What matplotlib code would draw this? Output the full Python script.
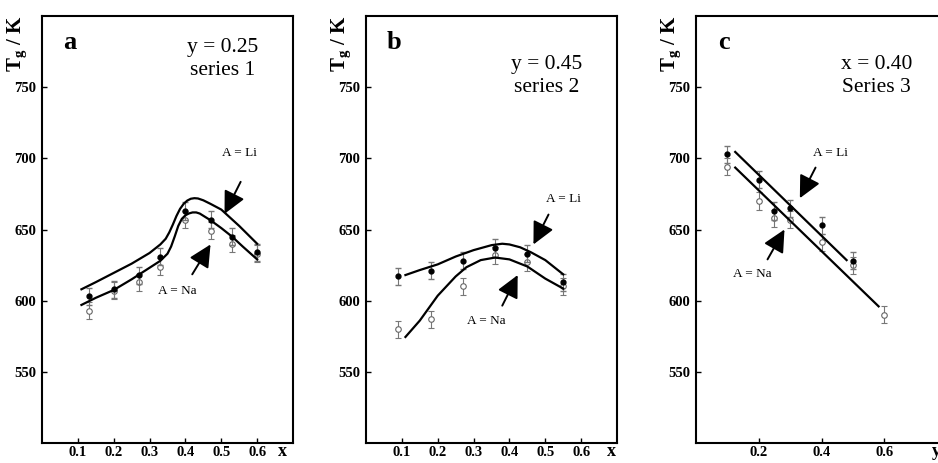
import matplotlib
matplotlib.use("Agg")
import matplotlib.pyplot as plt

plt.rcParams["font.family"] = "Liberation Serif"
plt.rcParams["mathtext.fontset"] = "custom"
plt.rcParams["mathtext.rm"] = "Liberation Serif"
plt.rcParams["mathtext.bf"] = "Liberation Serif:bold"

# ---- panel a: y = 0.25, series 1 ----
A_X = [0.13, 0.20, 0.27, 0.33, 0.40, 0.47, 0.53, 0.60]
A_LI = [603, 608, 618, 631, 663, 657, 645, 634]
A_NA = [593, 607, 613, 624, 657, 649, 640, 633]
A_LI_FIT_X = [0.11, 0.15, 0.20, 0.25, 0.30, 0.33, 0.345, 0.355, 0.365, 0.375,
              0.385, 0.395, 0.405, 0.415, 0.425, 0.435, 0.45, 0.47, 0.50, 0.55, 0.60]
A_LI_FIT_Y = [608, 613, 619.5, 626, 633.5, 639.5, 643.5, 648, 653.5, 659.5,
              664.5, 668, 670.3, 671.6, 672, 671.8, 670.5, 668, 664, 652.5, 640]
A_NA_FIT_X = [0.11, 0.15, 0.20, 0.25, 0.29, 0.33, 0.35, 0.36, 0.37, 0.38, 0.39,
              0.40, 0.41, 0.42, 0.43, 0.44, 0.47, 0.50, 0.53, 0.56, 0.60]
A_NA_FIT_Y = [597, 602, 607.5, 615, 621.5, 628, 633, 638, 645, 652.5, 657.5,
              660, 661.3, 662, 662, 661.2, 656.5, 651, 645, 638, 629]

# ---- panel b: y = 0.45, series 2 ----
B_X = [0.09, 0.18, 0.27, 0.36, 0.45, 0.55]
B_LI = [617, 621, 628, 637, 633, 613]
B_NA = [580, 587, 610, 632, 627, 610]
B_LI_FIT_X = [0.11, 0.15, 0.20, 0.25, 0.30, 0.35, 0.38, 0.40, 0.43, 0.46, 0.50, 0.55]
B_LI_FIT_Y = [618, 621.5, 625.5, 631, 635.5, 639, 640, 639.5, 637.5, 634, 628.5, 618.5]
B_NA_FIT_X = [0.11, 0.15, 0.20, 0.25, 0.28, 0.32, 0.36, 0.40, 0.45, 0.50, 0.55]
B_NA_FIT_Y = [574.5, 586, 603.5, 617, 623.5, 628.5, 630.3, 629, 624, 615.5, 608.5]

# ---- panel c: x = 0.40, series 3 ----
C_LI_X = [0.10, 0.20, 0.25, 0.30, 0.40, 0.50]
C_LI = [703, 685, 663, 665, 653, 628]
C_NA_X = [0.10, 0.20, 0.25, 0.30, 0.40, 0.50, 0.60]
C_NA = [694, 670, 658, 657, 641, 625, 590]
C_LI_FIT_X = [0.125, 0.48]
C_LI_FIT_Y = [704.5, 628.5]
C_NA_FIT_X = [0.125, 0.582]
C_NA_FIT_Y = [693.5, 596]

ERR = 6

W, H = 938, 463
fig = plt.figure(figsize=(W / 100, H / 100), dpi=100)

panels = [
    dict(left=42, letter="a", info="y = 0.25\nseries 1", info_y=0.899, xmax=0.7,
         xticks=[0.1, 0.2, 0.3, 0.4, 0.5, 0.6], xlab="x", xlab_x=0.67,
         li=(A_X, A_LI), na=(A_X, A_NA),
         li_fit=(A_LI_FIT_X, A_LI_FIT_Y), na_fit=(A_NA_FIT_X, A_NA_FIT_Y),
         li_note=((0.55, 704), (0.554, 683.5), (0.509, 661)),
         na_note=((0.377, 607), (0.419, 618.5), (0.47, 639.5))),
    dict(left=366, letter="b", info="y = 0.45\nseries 2", info_y=0.86, xmax=0.7,
         xticks=[0.1, 0.2, 0.3, 0.4, 0.5, 0.6], xlab="x", xlab_x=0.685,
         li=(B_X, B_LI), na=(B_X, B_NA),
         li_fit=(B_LI_FIT_X, B_LI_FIT_Y), na_fit=(B_NA_FIT_X, B_NA_FIT_Y),
         li_note=((0.551, 671.5), (0.509, 660.5), (0.467, 639.5)),
         na_note=((0.336, 586), (0.38, 596.5), (0.423, 618))),
    dict(left=696, letter="c", info="x = 0.40\nSeries 3", info_y=0.86, xmax=0.8,
         xticks=[0.2, 0.4, 0.6], xlab="y", xlab_x=0.765,
         li=(C_LI_X, C_LI), na=(C_NA_X, C_NA),
         li_fit=(C_LI_FIT_X, C_LI_FIT_Y), na_fit=(C_NA_FIT_X, C_NA_FIT_Y),
         li_note=((0.429, 704), (0.381, 693.5), (0.331, 672)),
         na_note=((0.18, 619), (0.228, 629), (0.282, 650))),
]

for p in panels:
    ax = fig.add_axes([p["left"] / W, (H - 443) / H, 251 / W, 427 / H])
    ax.set_xlim(0, p["xmax"])
    ax.set_ylim(500, 800)
    ax.set_xticks(p["xticks"])
    ax.set_xticklabels([f"{t:.1f}" for t in p["xticks"]])
    ax.set_yticks([550, 600, 650, 700, 750])
    ax.tick_params(direction="in", length=3.5, width=1, labelsize=10.5)
    ax.tick_params(axis="x", pad=2.5)
    ax.tick_params(axis="y", pad=4)
    for lab in ax.get_xticklabels() + ax.get_yticklabels():
        lab.set_fontweight("bold")
    for s in ax.spines.values():
        s.set_linewidth(1.5)

    ax.errorbar(*p["na"], yerr=ERR, fmt="o", ms=4, mfc="white", mec="#666666",
                mew=0.8, ecolor="#777777", elinewidth=0.8, capsize=2, zorder=2)
    ax.errorbar(*p["li"], yerr=ERR, fmt="o", ms=3.5, mfc="black", mec="black",
                ecolor="#777777", elinewidth=0.8, capsize=2, zorder=3)
    ax.plot(*p["li_fit"], color="black", lw=1.6, zorder=4)
    ax.plot(*p["na_fit"], color="black", lw=1.6, zorder=4)

    for label, note in (("A = Li", p["li_note"]), ("A = Na", p["na_note"])):
        (tx, ty), tail, head = note
        ax.text(tx, ty, label, ha="center", va="center", fontsize=9.5)
        ax.annotate("", xy=head, xytext=tail,
                    arrowprops=dict(arrowstyle="-|>,head_length=0.85,head_width=0.42",
                                    color="black", lw=1.4, mutation_scale=16,
                                    shrinkA=0, shrinkB=0))

    ax.text(0.11, 0.937, p["letter"], transform=ax.transAxes, ha="center",
            va="center", fontsize=19, fontweight="bold")
    ax.text(0.72, p["info_y"], p["info"], transform=ax.transAxes, ha="center",
            va="center", fontsize=15.5, linespacing=1.3)
    ax.text(-0.097, 0.935, r"$\mathbf{T_g}$ / K", transform=ax.transAxes,
            rotation=90, ha="center", va="center", fontsize=15, fontweight="bold")
    ax.text(p["xlab_x"], -0.021, p["xlab"], transform=ax.get_xaxis_transform(),
            ha="center", va="center", fontsize=13, fontweight="bold")

fig.savefig("out.png", dpi=100)
